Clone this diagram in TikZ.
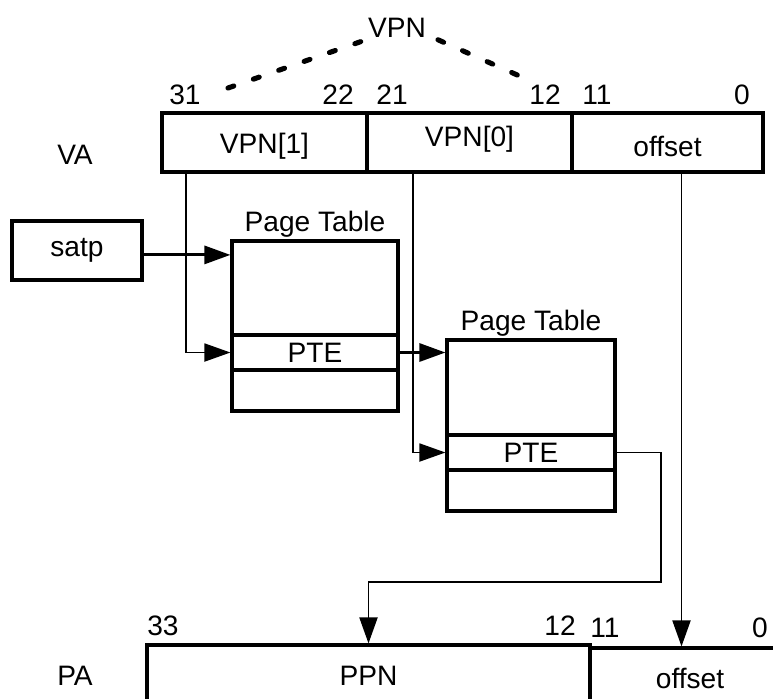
\documentclass[tikz,border=0pt]{standalone}
\usepackage{fontspec}
\setmainfont{Liberation Sans}
\usetikzlibrary{arrows.meta}

\begin{document}
\begin{tikzpicture}[x=0.02cm, y=-0.02cm, font=\fontsize{16}{19}\selectfont]
        \tikzset{field/.style={draw, line width=1.8pt, minimum height=1.18cm, inner sep=0pt}}
        \tikzset{ptbox/.style={draw, line width=1.8pt, inner sep=0pt}}
        \tikzset{bitno/.style={inner sep=0pt}}
        \tikzset{ptlabel/.style={label={[inner sep=0pt, label distance=1pt]above:Page Table}}}
        \tikzset{thickarrow/.style={line width=1.7pt, -{Triangle[length=5.2mm, width=3.6mm]}}}
        \tikzset{thinarrow/.style={line width=1.1pt, -{Triangle[length=5.2mm, width=3.6mm]}}}
        \tikzset{vpndash/.style={line width=2.9pt, line cap=round, dash pattern=on 3.5pt off 11.8pt}}

        \useasboundingbox (0,0) rectangle (773,698);
        \clip (0,0) rectangle (773,698);

        \node[field, minimum width=4.1cm, label={[yshift=-2pt]center:VPN[1]}] (vpnone) at (264.5,142.5) {};
        \node[field, minimum width=4.1cm, label={[yshift=2pt]center:VPN[0]}] (vpnzero) at (469.5,142.5) {};
        \node[field, minimum width=3.82cm, label={[yshift=-2pt]center:offset}] (vaoff) at (667.5,142.5) {};
        \node (va) at (75,155) {VA};

        \node[inner sep=1pt] (vpn) at (397,28) {VPN};
        \coordinate (dashl) at (228,88);
        \coordinate (dashr) at (524,78);
        \draw[vpndash] (dashl) -- (vpn.south west);
        \draw[vpndash] ([xshift=0.2cm]vpn.south east) -- (dashr);

        \node[bitno] (vaa) at (185,95) {31};
        \node[bitno] (vab) at (338,95) {22};
        \node[bitno] (vac) at (392,95) {21};
        \node[bitno] (vad) at (545,95) {12};
        \node[bitno] (vae) at (597,95) {11};
        \node[bitno] (vaf) at (742,95) {0};

        \node[field, minimum width=2.6cm] (satp) at (77,250.5) {satp};

        \node[ptbox, ptlabel, minimum width=3.32cm, minimum height=3.4cm] (ptone) at (315,326) {};
        \node[ptbox, minimum width=3.32cm, minimum height=0.7cm] (pteone) at (315,352.5) {PTE};

        \node[ptbox, ptlabel, minimum width=3.36cm, minimum height=3.42cm] (pttwo) at (531,425.5) {};
        \node[ptbox, minimum width=3.36cm, minimum height=0.7cm] (ptetwo) at (531,452.5) {PTE};

        \node (pa) at (75,676) {PA};
        \node[field, minimum width=8.86cm, minimum height=1.22cm] (ppn) at (368.5,675.5) {PPN};
        \node[field, minimum width=4cm, minimum height=1.2cm] (paoff) at (690,678) {offset};
        \node[bitno] (paa) at (163,626) {33};
        \node[bitno] (pab) at (560,626) {12};
        \node[bitno] (pac) at (605,628) {11};
        \node[bitno] (pad) at (760,628) {0};

        \draw[thickarrow] ([yshift=-2.5pt]satp.east) -- ([yshift=-2.5pt]satp.east -| ptone.west);
        \draw[thinarrow] ([xshift=0.52cm]vpnone.south west) |- (pteone.west);
        \draw[thickarrow] (pteone.east) -- (pteone.east -| pttwo.west);
        \draw[thinarrow] ([xshift=0.96cm]vpnzero.south west) |- (ptetwo.west);
        \coordinate (bend) at (661,582);
        \draw[thinarrow] (ptetwo.east) -| (bend) -| (ppn.north);
        \draw[thinarrow] ([xshift=0.28cm]vaoff.south) -- ([xshift=0.28cm]vaoff.south |- paoff.north);
    \end{tikzpicture}
\end{document}
